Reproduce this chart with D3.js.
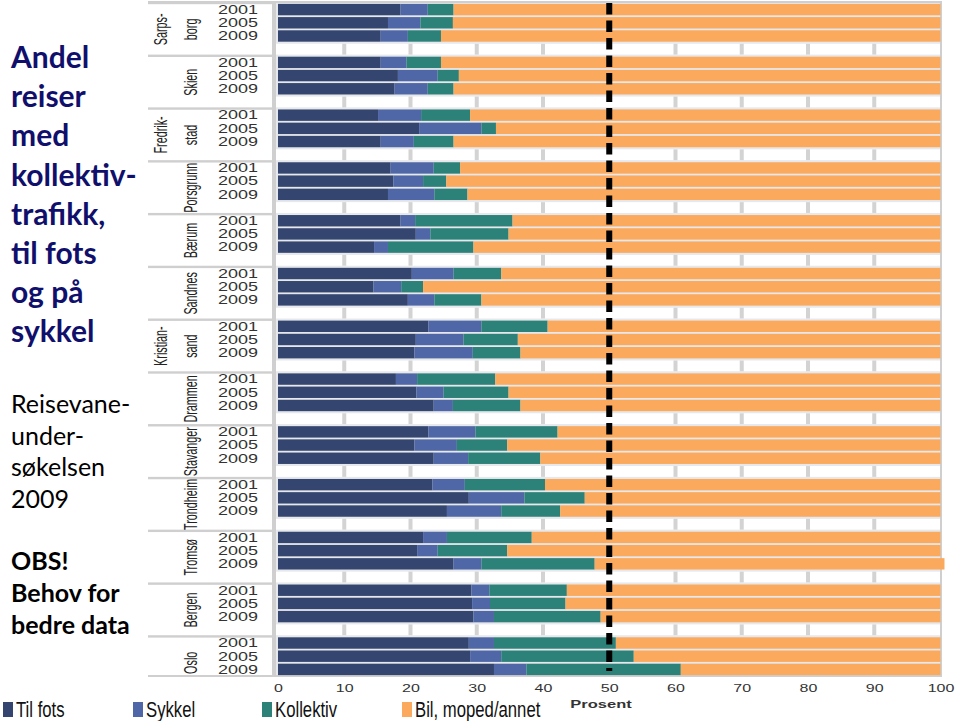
<!DOCTYPE html>
<html><head><meta charset="utf-8">
<script src="https://cdn.jsdelivr.net/npm/d3@7"></script>
<style>
html,body{margin:0;padding:0;background:#fff;}
svg{display:block;}
</style></head>
<body>
<svg id="c" width="959" height="721"></svg>
<script>
// ---------- DATA ----------
const cities = ["Sarpsborg","Skien","Fredrikstad","Porsgrunn","Bærum","Sandnes","Kristiansand","Drammen","Stavanger","Trondheim","Tromsø","Bergen","Oslo"];
const cityLabelLines = [["Sarps-","borg"],["Skien"],["Fredrik-","stad"],["Porsgrunn"],["Bærum"],["Sandnes"],["Kristian-","sand"],["Drammen"],["Stavanger"],["Trondheim"],["Tromsø"],["Bergen"],["Oslo"]];
const years = ["2001","2005","2009"];
const seriesNames = ["Til fots","Sykkel","Kollektiv","Bil, moped/annet"];
const seriesColors = ["#34466f","#4f67a6","#2c8279","#fba95c"];
// values per city (2001, 2005, 2009), percent
const tilFots = [18.5,16.6,15.5, 15.5,18.1,17.6, 15.1,21.3,15.5, 17.0,17.4,16.6, 18.5,20.8,14.5, 20.2,14.4,19.6, 22.7,20.8,20.6, 17.8,20.9,23.5, 22.7,20.6,23.5, 23.3,28.8,25.5, 21.9,21.0,26.5, 29.2,29.3,29.5, 28.8,29.0,32.6];
const sykkel  = [4.1,4.9,4.1, 3.9,6.0,5.0, 6.5,9.4,5.0, 6.5,4.5,7.0, 2.2,2.2,2.1, 6.3,4.2,4.0, 8.0,7.2,8.8, 3.2,4.1,2.9, 7.1,6.4,5.2, 4.9,8.4,8.2, 3.6,3.1,4.2, 2.7,2.7,3.1, 3.8,4.7,4.9];
const kollektiv = [3.9,4.9,5.0, 5.2,3.2,3.9, 7.4,2.2,6.0, 4.0,3.5,5.0, 14.7,11.8,12.9, 7.2,3.3,7.1, 10.0,8.2,7.2, 11.8,9.8,10.2, 12.4,7.6,10.9, 12.1,9.1,8.9, 12.8,10.5,17.1, 11.7,11.4,16.1, 18.4,20.0,23.3];
const bil = [73.5,73.6,75.4, 75.4,72.7,73.5, 71.0,67.1,73.5, 72.5,74.6,71.4, 64.6,65.2,70.5, 66.3,78.1,69.3, 59.3,63.8,63.4, 67.2,65.2,63.4, 57.8,65.4,60.4, 59.7,53.7,57.4, 61.7,65.4,52.8, 56.4,56.6,51.3, 49.0,46.3,39.2];
const xTicks = [0,10,20,30,40,50,60,70,80,90,100];
const refLine = 50;
const titleLines = ["Andel","reiser","med","kollektiv-","trafikk,","til fots","og på","sykkel"];
const subLines = ["Reisevane-","under-","søkelsen","2009"];
const noteLines = ["OBS!","Behov for","bedre data"];

// ---------- LAYOUT ----------
const svg = d3.select("#c");
const frameL = 148, axisX = 274, plotR = 941, plotTop = 3, plotBottom = 676;
const x = d3.scaleLinear().domain([0,100]).range([278, 940.5]);
const nRows = cities.length*4 - 1;
const y = d3.scaleLinear().domain([0, nRows]).range([plotTop, plotBottom]);
const slot = y(1) - y(0);

// frame background
svg.append("rect").attr("x",frameL).attr("y",plotTop-2).attr("width",plotR-frameL+1).attr("height",plotBottom-plotTop+3).attr("fill","#cfcfcf");
// label column white cells
cities.forEach((c,g)=>{
  const y0 = y(g*4) + 1.2;
  const y1 = (g === cities.length-1) ? y(g*4+3) - 1 : y(g*4+4) - 1.2;
  svg.append("rect").attr("x",frameL).attr("y",y0).attr("width",axisX-frameL-2).attr("height",y1-y0).attr("fill","#fff");
});
// bar area background
svg.append("rect").attr("x",axisX+2).attr("y",plotTop).attr("width",plotR-axisX-3).attr("height",plotBottom-plotTop-1).attr("fill","#e6e8ec");
// gap rows
const gapRows = d3.range(cities.length-1).map(g=>g*4+3);
svg.selectAll("rect.gap").data(gapRows).join("rect").attr("class","gap")
  .attr("x",axisX+2).attr("y",r=>y(r)+1.2).attr("width",plotR-axisX-3).attr("height",slot-2.4).attr("fill","#fff");
// grid stubs in gap rows
const gridVals = xTicks.filter(v=>v>0 && v<100 && v!==refLine);
gapRows.forEach(r=>{
  svg.append("g").selectAll("rect").data(gridVals).join("rect")
    .attr("x",v=>x(v)-2).attr("y",y(r)+1.2).attr("width",4).attr("height",slot-2.4).attr("fill","#d3d3d3");
});

// bars
const series = [tilFots, sykkel, kollektiv, bil];
const rows = [];
cities.forEach((c,g)=>years.forEach((yr,k)=>{
  const i = g*3+k;
  let acc = 0;
  series.forEach((s,si)=>{
    rows.push({r:g*4+k, s:si, x0:acc, x1:acc+s[i]});
    acc += s[i];
  });
}));
svg.append("g").selectAll("rect").data(rows).join("rect")
  .attr("x",d=>x(d.x0)).attr("width",d=>x(d.x1)-x(d.x0))
  .attr("y",d=>y(d.r)+0.9).attr("height",slot-1.8)
  .attr("fill",d=>seriesColors[d.s]);

// dashed 50% line
svg.append("line").attr("x1",x(refLine)).attr("x2",x(refLine)).attr("y1",plotTop).attr("y2",plotBottom-5)
  .attr("stroke","#000").attr("stroke-width",6).attr("stroke-dasharray","11.5,6");

// year + city labels
cities.forEach((c,g)=>{
  years.forEach((yr,k)=>{
    svg.append("g").attr("transform",`translate(238,${y(g*4+k)+slot/2})`)
      .append("text").attr("transform","scale(1.5,1)").attr("text-anchor","middle").attr("dy","0.36em")
      .attr("font-family","Liberation Sans, Arial, sans-serif").attr("font-size",12).attr("fill","#333").text(yr);
  });
  const lines = cityLabelLines[g];
  const cy = y(g*4) + 2*slot;
  lines.forEach((ln,li)=>{
    const cx = lines.length===2 ? (li===0 ? 161 : 191) : 191;
    svg.append("g").attr("transform",`translate(${cx},${cy}) rotate(-90)`)
      .append("text").attr("transform","scale(0.6,1)").attr("text-anchor","middle").attr("dy","0.36em")
      .attr("font-family","Liberation Sans, Arial, sans-serif").attr("font-size",18).attr("fill","#222").text(ln);
  });
});

// x axis
const ax = svg.append("g").attr("transform",`translate(0,${plotBottom+8})`)
  .call(d3.axisBottom(x).tickValues(xTicks).tickSize(0).tickPadding(0));
ax.select(".domain").remove();
ax.selectAll("text").attr("transform","scale(1.6,1)").attr("font-family","Liberation Sans, Arial, sans-serif")
  .attr("font-size",10).attr("fill","#333").attr("dy","0.75em");
svg.append("g").attr("transform","translate(601,708)").append("text").attr("transform","scale(1.65,1)")
  .attr("text-anchor","middle").attr("font-family","Liberation Sans, Arial, sans-serif").attr("font-weight","bold")
  .attr("font-size",10).attr("fill","#333").text("Prosent");

// legend
const legX = [3,133,262,402];
seriesNames.forEach((n,i)=>{
  svg.append("rect").attr("x",legX[i]).attr("y",702).attr("width",10).attr("height",15).attr("fill",seriesColors[i]);
  svg.append("g").attr("transform",`translate(${legX[i]+13},717)`).append("text").attr("transform","scale(0.76,1)")
    .attr("font-family","Liberation Sans, Arial, sans-serif").attr("font-size",22).attr("fill","#111").text(n);
});

// left text panel
const tf = "Lato, 'Open Sans', sans-serif";
titleLines.forEach((t,i)=>{
  svg.append("text").attr("x",11).attr("y",68+i*39.2).attr("font-family",tf).attr("font-weight","bold")
    .attr("font-size",30).attr("fill","#10106c").text(t);
});
subLines.forEach((t,i)=>{
  svg.append("text").attr("x",11).attr("y",413+i*31.5).attr("font-family",tf)
    .attr("font-size",25).attr("fill","#000").text(t);
});
noteLines.forEach((t,i)=>{
  svg.append("text").attr("x",11).attr("y",570+i*32).attr("font-family",tf).attr("font-weight","bold")
    .attr("font-size",25).attr("fill","#000").text(t);
});
</script>
</body></html>
